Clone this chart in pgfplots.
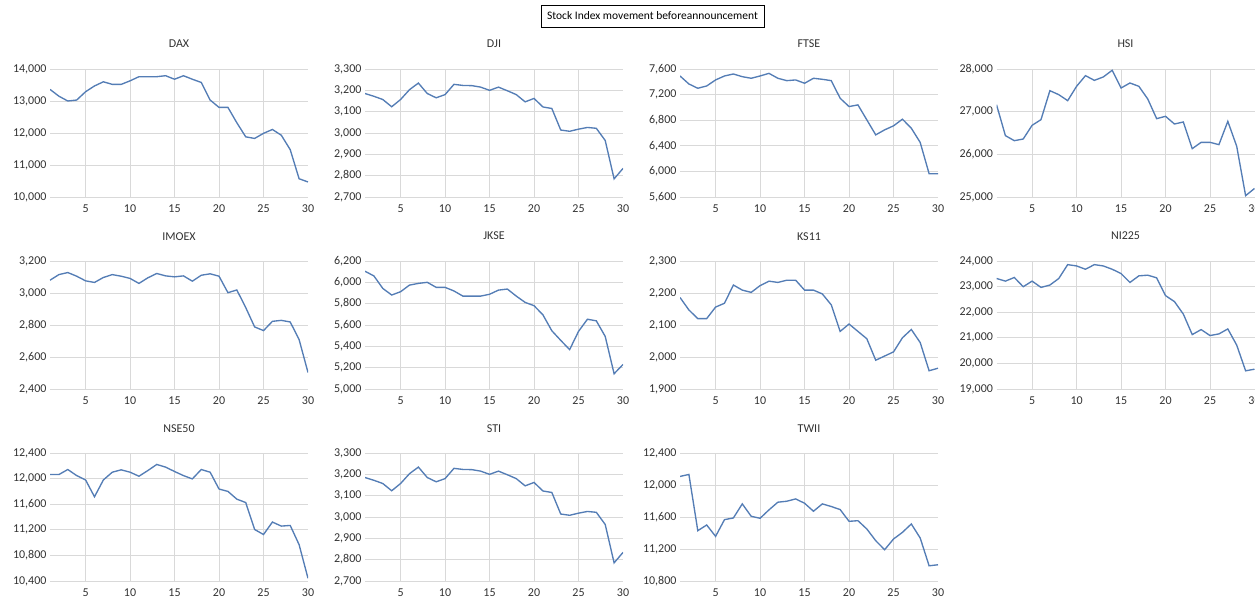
\documentclass[border=0pt]{standalone}
\usepackage{fontspec}
\setmainfont{Carlito}
\usepackage{pgfplots}
\pgfplotsset{compat=1.18}
\definecolor{linec}{RGB}{84,125,181}
\definecolor{gridc}{RGB}{217,217,217}
\definecolor{txt}{RGB}{50,50,50}
\pgfplotsset{
  panel/.style={
    scale only axis, width=258pt, height=128pt,
    anchor=south west,
    xmin=1, xmax=30,
    xtick={5,10,15,20,25}, extra x ticks={30},
    extra x tick style={grid=none},
    grid=major, grid style={draw=gridc, line width=0.7pt},
    axis line style={draw=none},
    major tick length=0pt,
    scaled ticks=false,
    tick label style={font=\fontsize{12}{14}\selectfont, text=txt},
    xticklabel style={yshift=-4pt},
    yticklabel style={/pgf/number format/1000 sep={,}, /pgf/number format/assume math mode=true},
    xticklabel style={/pgf/number format/assume math mode=true},
    title style={font=\fontsize{12}{14}\selectfont, text=txt, at={(0.5,1)}, anchor=base, yshift=15pt},
    cycle list={{draw=linec, mark=none}},
    every axis plot post/.append style={draw=linec, line width=1.35pt, mark=none},
  }
}
\begin{document}
\begin{tikzpicture}
\node[draw=black, line width=0.6pt, minimum width=223pt, minimum height=22pt, inner sep=0pt, font=\fontsize{11.5}{13}\selectfont] at (652.5pt,584pt) {Stock Index movement beforeannouncement};

% Row 1
\begin{axis}[panel, at={(50pt,403pt)}, title={DAX}, ymin=10000, ymax=14000, ytick={10000,11000,...,14000}]
\addplot coordinates {(1,13363)(2,13150)(3,13000)(4,13030)(5,13290)(6,13470)(7,13600)(8,13520)(9,13520)(10,13630)(11,13760)(12,13760)(13,13760)(14,13790)(15,13680)(16,13790)(17,13680)(18,13580)(19,13030)(20,12800)(21,12800)(22,12320)(23,11880)(24,11830)(25,11990)(26,12110)(27,11930)(28,11480)(29,10570)(30,10470)};
\end{axis}
\begin{axis}[panel, at={(365pt,403pt)}, title={DJI}, ymin=2700, ymax=3300, ytick={2700,2800,...,3300}]
\addplot coordinates {(1,3185)(2,3172)(3,3157)(4,3123)(5,3157)(6,3203)(7,3234)(8,3185)(9,3165)(10,3180)(11,3228)(12,3223)(13,3222)(14,3215)(15,3200)(16,3215)(17,3198)(18,3180)(19,3146)(20,3162)(21,3122)(22,3115)(23,3014)(24,3008)(25,3018)(26,3026)(27,3022)(28,2965)(29,2785)(30,2834)};
\end{axis}
\begin{axis}[panel, at={(680pt,403pt)}, title={FTSE}, ymin=5600, ymax=7600, ytick={5600,6000,...,7600}]
\addplot coordinates {(1,7491)(2,7366)(3,7299)(4,7335)(5,7429)(6,7491)(7,7522)(8,7480)(9,7455)(10,7491)(11,7532)(12,7455)(13,7418)(14,7429)(15,7377)(16,7455)(17,7439)(18,7418)(19,7143)(20,7013)(21,7039)(22,6805)(23,6571)(24,6649)(25,6712)(26,6816)(27,6675)(28,6452)(29,5964)(30,5964)};
\end{axis}
\begin{axis}[panel, at={(996.5pt,403pt)}, title={HSI}, ymin=25000, ymax=28000, ytick={25000,26000,...,28000}]
\addplot coordinates {(1,27164)(2,26438)(3,26320)(4,26359)(5,26680)(6,26813)(7,27492)(8,27398)(9,27258)(10,27594)(11,27844)(12,27734)(13,27813)(14,27969)(15,27555)(16,27672)(17,27594)(18,27297)(19,26836)(20,26891)(21,26711)(22,26758)(23,26133)(24,26281)(25,26281)(26,26227)(27,26773)(28,26188)(29,25031)(30,25200)};
\end{axis}

% Row 2
\begin{axis}[panel, at={(50pt,211pt)}, title={IMOEX}, ymin=2400, ymax=3200, ytick={2400,2600,...,3200}]
\addplot coordinates {(1,3080)(2,3115)(3,3128)(4,3105)(5,3076)(6,3066)(7,3097)(8,3115)(9,3105)(10,3091)(11,3060)(12,3095)(13,3122)(14,3107)(15,3101)(16,3107)(17,3074)(18,3111)(19,3120)(20,3105)(21,3002)(22,3019)(23,2909)(24,2788)(25,2765)(26,2823)(27,2829)(28,2819)(29,2709)(30,2503)};
\end{axis}
\begin{axis}[panel, at={(365pt,211pt)}, title={JKSE}, ymin=5000, ymax=6200, ytick={5000,5200,...,6200}]
\addplot coordinates {(1,6104)(2,6060)(3,5943)(4,5881)(5,5912)(6,5974)(7,5990)(8,6000)(9,5953)(10,5953)(11,5919)(12,5871)(13,5871)(14,5871)(15,5888)(16,5927)(17,5937)(18,5871)(19,5812)(20,5781)(21,5695)(22,5546)(23,5456)(24,5369)(25,5540)(26,5654)(27,5639)(28,5493)(29,5143)(30,5230)};
\end{axis}
\begin{axis}[panel, at={(680pt,211pt)}, title={KS11}, ymin=1900, ymax=2300, ytick={1900,2000,...,2300}]
\addplot coordinates {(1,2186)(2,2147)(3,2120)(4,2120)(5,2156)(6,2168)(7,2225)(8,2209)(9,2202)(10,2223)(11,2237)(12,2233)(13,2240)(14,2240)(15,2209)(16,2209)(17,2197)(18,2163)(19,2080)(20,2103)(21,2080)(22,2057)(23,1990)(24,2003)(25,2016)(26,2060)(27,2086)(28,2045)(29,1957)(30,1965)};
\end{axis}
\begin{axis}[panel, at={(996.5pt,211pt)}, title={NI225}, ymin=19000, ymax=24000, ytick={19000,20000,...,24000}]
\addplot coordinates {(1,23317)(2,23214)(3,23356)(4,22995)(5,23214)(6,22969)(7,23060)(8,23317)(9,23858)(10,23807)(11,23678)(12,23858)(13,23807)(14,23678)(15,23510)(16,23162)(17,23420)(18,23446)(19,23343)(20,22647)(21,22415)(22,21925)(23,21126)(24,21320)(25,21088)(26,21152)(27,21346)(28,20714)(29,19710)(30,19774)};
\end{axis}

% Row 3
\begin{axis}[panel, at={(50pt,19pt)}, title={NSE50}, ymin=10400, ymax=12400, ytick={10400,10800,...,12400}]
\addplot coordinates {(1,12063)(2,12063)(3,12142)(4,12047)(5,11979)(6,11716)(7,11979)(8,12100)(9,12137)(10,12100)(11,12037)(12,12126)(13,12221)(14,12179)(15,12111)(16,12047)(17,11995)(18,12142)(19,12100)(20,11837)(21,11800)(22,11679)(23,11626)(24,11205)(25,11126)(26,11321)(27,11258)(28,11268)(29,10968)(30,10442)};
\end{axis}
\begin{axis}[panel, at={(365pt,19pt)}, title={STI}, ymin=2700, ymax=3300, ytick={2700,2800,...,3300}]
\addplot coordinates {(1,3185)(2,3172)(3,3157)(4,3123)(5,3157)(6,3203)(7,3234)(8,3185)(9,3165)(10,3180)(11,3228)(12,3223)(13,3222)(14,3215)(15,3200)(16,3215)(17,3198)(18,3180)(19,3146)(20,3162)(21,3122)(22,3115)(23,3014)(24,3008)(25,3018)(26,3026)(27,3022)(28,2965)(29,2785)(30,2834)};
\end{axis}
\begin{axis}[panel, at={(680pt,19pt)}, title={TWII}, ymin=10800, ymax=12400, ytick={10800,11200,...,12400}]
\addplot coordinates {(1,12107)(2,12132)(3,11429)(4,11500)(5,11358)(6,11567)(7,11588)(8,11764)(9,11609)(10,11584)(11,11689)(12,11785)(13,11797)(14,11826)(15,11772)(16,11672)(17,11764)(18,11731)(19,11693)(20,11546)(21,11554)(22,11450)(23,11304)(24,11191)(25,11325)(26,11408)(27,11513)(28,11337)(29,10990)(30,11003)};
\end{axis}
\pgfresetboundingbox
\path[use as bounding box] (0pt,0pt) rectangle (1255pt,600pt);
\end{tikzpicture}
\end{document}
